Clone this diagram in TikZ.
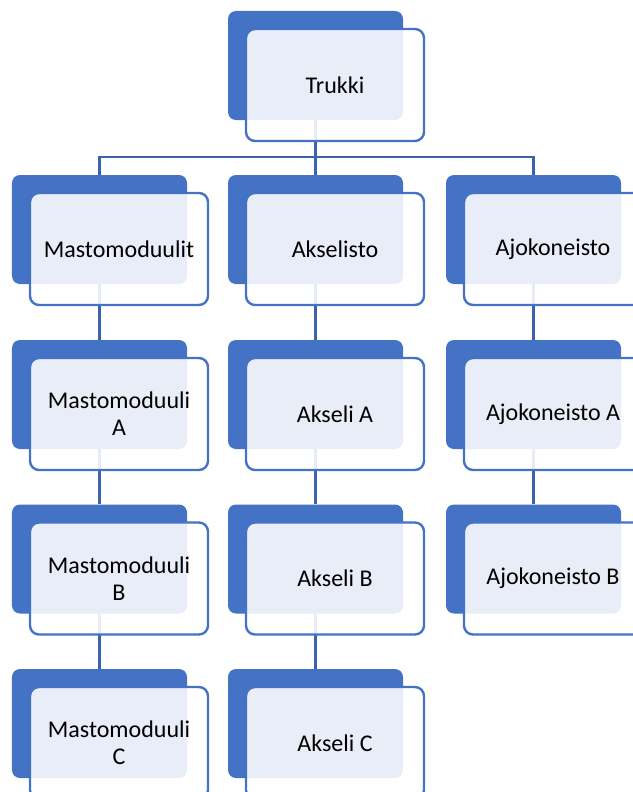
\documentclass[tikz,border=0pt]{standalone}
\usepackage{fontspec}
\setmainfont{Carlito}
\usetikzlibrary{calc}
\definecolor{accent}{HTML}{4472C4}
\definecolor{connc}{HTML}{3A63AC}
\pgfdeclarelayer{bg}
\pgfsetlayers{bg,main}
\tikzset{
  backbox/.style={fill=accent, draw=none, rounded corners=8bp, minimum width=175bp, minimum height=109bp, inner sep=0pt},
  frontbox/.style={draw=accent, line width=2.4bp, fill=white, fill opacity=0.88, text opacity=1, rounded corners=9bp, minimum width=178bp, minimum height=112bp, inner sep=0pt, align=center, font=\fontsize{24bp}{27bp}\selectfont, text=black},
  conn/.style={draw=connc, line width=2.2bp}
}
\newcommand{\elem}[4]{%
  \node[backbox] (#1-bk) at (#2+87.5, #3+54.5) {};
  \node[frontbox] (#1) at (#2+18+89, #3+18+56) {#4};
}
\begin{document}
\begin{tikzpicture}[x=1bp, y=-1bp]
\useasboundingbox (0,0) rectangle (633,792);
\clip (0,0) rectangle (633,792);
\elem{t}{228}{11}{Trukki}
\elem{m}{12}{175}{Mastomoduulit}
\elem{ma}{12}{340}{Mastomoduuli\\A}
\elem{mb}{12}{504.5}{Mastomoduuli\\B}
\elem{mc}{12}{669}{Mastomoduuli\\C}
\elem{a}{228}{175}{Akselisto}
\elem{aa}{228}{340}{Akseli A}
\elem{ab}{228}{504.5}{Akseli B}
\elem{ac}{228}{669}{Akseli C}
\elem{j}{446}{175}{Ajokoneisto}
\elem{ja}{446}{340}{Ajokoneisto A}
\elem{jb}{446}{504.5}{Ajokoneisto B}
\coordinate (bus) at (0,157);
\begin{pgfonlayer}{bg}
\draw[conn] (t-bk.south) -- (t-bk.south |- bus);
\draw[conn] (m-bk.north) -- (m-bk.north |- bus) -- (j-bk.north |- bus) -- (j-bk.north);
\draw[conn] (a-bk.north) -- (a-bk.north |- bus);
\draw[conn] (m-bk.south) -- (ma-bk.north);
\draw[conn] (ma-bk.south) -- (mb-bk.north);
\draw[conn] (mb-bk.south) -- (mc-bk.north);
\draw[conn] (a-bk.south) -- (aa-bk.north);
\draw[conn] (aa-bk.south) -- (ab-bk.north);
\draw[conn] (ab-bk.south) -- (ac-bk.north);
\draw[conn] (j-bk.south) -- (ja-bk.north);
\draw[conn] (ja-bk.south) -- (jb-bk.north);
\end{pgfonlayer}
\end{tikzpicture}
\end{document}
